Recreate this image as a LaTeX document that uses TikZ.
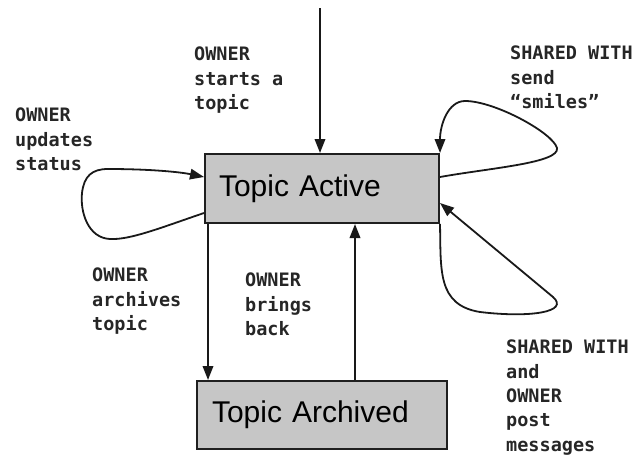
\documentclass[tikz,border=0pt]{standalone}
\usepackage{fontspec}
\newfontfamily\labelfont{DejaVu Sans Mono}
\newfontfamily\boxfont{Liberation Sans}
\usetikzlibrary{arrows.meta,calc}
\begin{document}
\begin{tikzpicture}[x=1pt,y=-1pt]
\tikzset{
 statebox/.style={draw=black!88, line width=2pt, fill=gray!45,
   font=\boxfont\fontsize{30}{36}\selectfont, align=left, inner ysep=0pt},
 lbl/.style={font=\labelfont\bfseries\fontsize{18.5}{24.3}\selectfont, align=left,
   anchor=north west, inner sep=0pt, text=black!85},
 arr/.style={line width=1.8pt, draw=black!90, -{Triangle[length=14pt,width=10.5pt]}},
}
\useasboundingbox (0,0) rectangle (639,455);

\node[statebox, minimum width=234pt, minimum height=69pt, text width=206pt, inner xsep=14pt] (active) at (322,188.5) {Topic Active};
\node[statebox, minimum width=250pt, minimum height=68pt, text width=220pt, inner xsep=15pt] (archived) at (322,415) {Topic Archived};

\node[lbl] (l1) at (194,47) {OWNER\\starts a\\topic};
\node[lbl] (l2) at (15,108) {OWNER\\updates\\status};
\node[lbl] (l3) at (510,46) {SHARED WITH\\send\\“smiles”};
\node[lbl] (l4) at (92,268) {OWNER\\archives\\topic};
\node[lbl] (l5) at (245,273) {OWNER\\brings\\back};
\node[lbl] (l6) at (506,340) {SHARED WITH\\and\\OWNER\\post\\messages};

\coordinate (src) at (320,8);
\draw[arr] (src) -- (src |- active.north);

\coordinate (d1) at ($(active.south west)+(4,0)$);
\draw[arr] (d1) -- (d1 |- archived.north);

\coordinate (u1) at ($(archived.north)+(33,0)$);
\draw[arr] (u1) -- (u1 |- active.south);

% left self loop (updates status)
\draw[arr] ($(active.west)+(0,24.5)$) .. controls (160,228) and (130,240) .. (110,239)
  .. controls (88,238) and (80,212) .. (82,193)
  .. controls (84,176) and (92,169) .. (108,169)
  .. controls (150,169) and (180,172) .. ($(active.west)+(0,-11.5)$);

% top right self loop (smiles)
\draw[arr] ($(active.east)+(0,-11.5)$) .. controls (490,168) and (560,163) .. (557,148)
  .. controls (553,133) and (495,101) .. (465,101)
  .. controls (448,101) and (440,125) .. (active.north east);

% bottom right self loop (post messages)
\draw[arr] (active.south east) .. controls (441,270) and (437,305) .. (480,312)
  .. controls (530,318) and (570,312) .. (553,297)
  -- ($(active.east)+(0,14.5)$);
\end{tikzpicture}
\end{document}
